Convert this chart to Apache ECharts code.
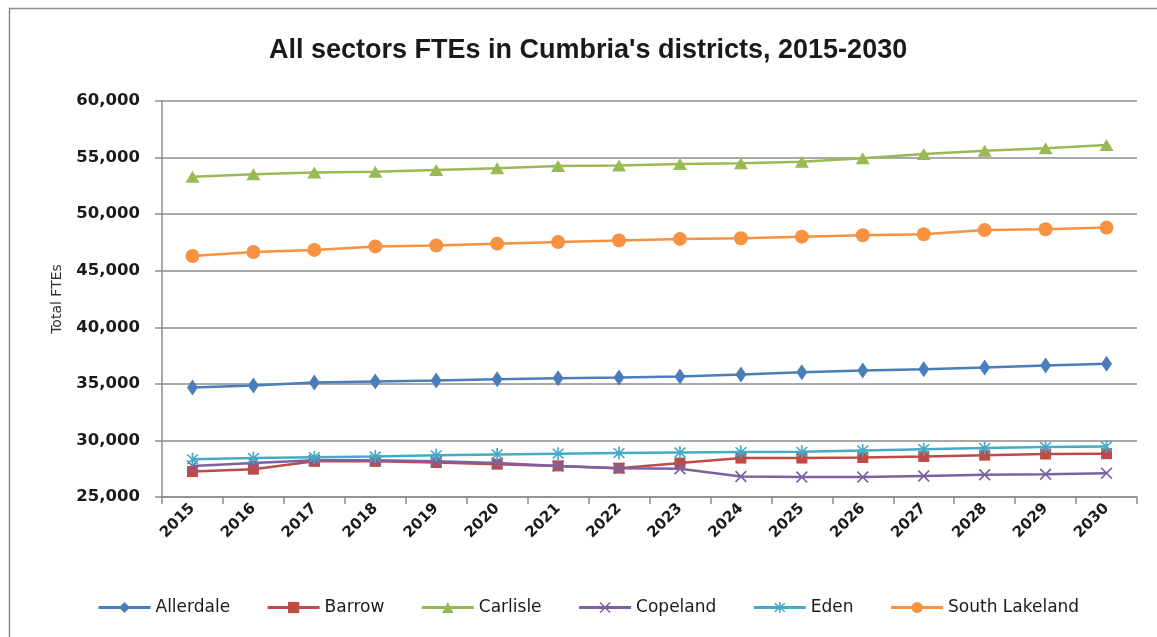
<!DOCTYPE html>
<html>
<head>
<meta charset="utf-8">
<script src="https://cdn.jsdelivr.net/npm/echarts@6/dist/echarts.min.js"></script>
<style>
html,body{margin:0;padding:0;background:#fff;}
#main{width:1157px;height:637px;}
</style>
</head>
<body>
<div id="main"></div>
<script>
const years = ['2015','2016','2017','2018','2019','2020','2021','2022','2023','2024','2025','2026','2027','2028','2029','2030'];
const allerdale = [34670, 34850, 35110, 35200, 35290, 35410, 35500, 35560, 35640, 35820, 36030, 36170, 36300, 36440, 36620, 36770];
const barrow = [27250, 27460, 28150, 28150, 28050, 27900, 27750, 27550, 28000, 28440, 28440, 28490, 28580, 28700, 28800, 28830];
const carlisle = [53310, 53530, 53670, 53750, 53900, 54050, 54250, 54300, 54430, 54490, 54640, 54930, 55320, 55610, 55820, 56110];
const copeland = [27750, 28000, 28250, 28250, 28150, 28000, 27750, 27550, 27500, 26810, 26760, 26760, 26860, 26960, 27010, 27110];
const eden = [28330, 28450, 28520, 28580, 28680, 28760, 28830, 28880, 28930, 28970, 28990, 29110, 29230, 29320, 29410, 29460];
const southLakeland = [46300, 46660, 46840, 47150, 47230, 47390, 47540, 47680, 47810, 47870, 48010, 48130, 48220, 48600, 48670, 48810];
const seriesNames = ['Allerdale','Barrow','Carlisle','Copeland','Eden','South Lakeland'];
const yTicks = {min: 25000, max: 60000, interval: 5000};

const xSym = 'path://M1,0 L5,4 L9,0 L10,1 L6,5 L10,9 L9,10 L5,6 L1,10 L0,9 L4,5 L0,1 Z';
const starSym = 'path://M1,0 L5,4 L9,0 L10,1 L6,5 L10,9 L9,10 L5,6 L1,10 L0,9 L4,5 L0,1 Z M4.3,-1 L5.7,-1 L5.7,11 L4.3,11 Z';

const styles = [
  {color:'#4A7EBB', symbol:'diamond', size:[11,16]},
  {color:'#BE4B48', symbol:'rect', size:[11,11]},
  {color:'#98B954', symbol:'triangle', size:[14,12]},
  {color:'#7D60A0', symbol:xSym, size:[12,12]},
  {color:'#46AAC5', symbol:starSym, size:[12,13]},
  {color:'#F69240', symbol:'circle', size:14}
];
const dataSets = [allerdale, barrow, carlisle, copeland, eden, southLakeland];

const chart = echarts.init(document.getElementById('main'), null, {renderer:'canvas'});
chart.setOption({
  animation:false,
  backgroundColor:'#fff',
  graphic:[{type:'rect', shape:{x:9.5,y:8.5,width:1170,height:660}, style:{fill:'none', stroke:'#8c8c8c', lineWidth:1.5}}],
  title:{
    text:"All sectors FTEs in Cumbria's districts, 2015-2030",
    left:264, top:32,
    textStyle:{fontFamily:'Liberation Sans', fontWeight:'bold', fontSize:27, color:'#1a1a1a'}
  },
  legend:{
    data:seriesNames,
    left:92, top:594,
    itemWidth:52, itemHeight:14, itemGap:36,
    lineStyle:{width:3},
    textStyle:{fontFamily:'DejaVu Sans', fontSize:17, color:'#1a1a1a'}
  },
  grid:{left:162, right:20, top:101, bottom:140, containLabel:false},
  xAxis:{
    type:'category', data:years, boundaryGap:true,
    axisLine:{lineStyle:{color:'#8c8c8c', width:1.5}},
    axisTick:{show:true, length:7, inside:false, alignWithLabel:false, lineStyle:{color:'#8c8c8c', width:1.5}},
    axisLabel:{rotate:45, margin:9, fontFamily:'DejaVu Sans', fontWeight:'bold', fontSize:15, color:'#1a1a1a', interval:0},
    splitLine:{show:false}
  },
  yAxis:{
    type:'value', min:yTicks.min, max:yTicks.max, interval:yTicks.interval,
    name:'Total FTEs', nameLocation:'middle', nameGap:98, nameRotate:90,
    nameTextStyle:{fontFamily:'DejaVu Sans', fontSize:14, color:'#333'},
    axisLine:{show:true, lineStyle:{color:'#8c8c8c', width:1.5}},
    axisTick:{show:true, length:7, lineStyle:{color:'#8c8c8c', width:1.5}},
    axisLabel:{margin:22, fontFamily:'DejaVu Sans', fontWeight:'bold', fontSize:16.5, color:'#1a1a1a',
      formatter:v=>v.toLocaleString('en-US')},
    splitLine:{show:true, lineStyle:{color:'#8c8c8c', width:1.5}}
  },
  series: seriesNames.map((n,i)=>({
    name:n, type:'line', data:dataSets[i],
    symbol:styles[i].symbol, symbolSize:styles[i].size, showAllSymbol:true,
    lineStyle:{color:styles[i].color, width:2.5},
    itemStyle:{color:styles[i].color},
    z: 2 + i
  }))
});
</script>
</body>
</html>
